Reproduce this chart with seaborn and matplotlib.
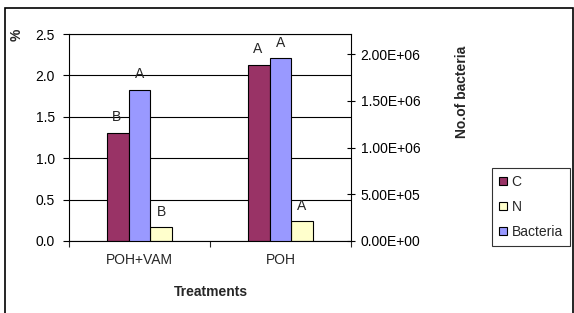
import matplotlib
matplotlib.use("Agg")
import matplotlib.pyplot as plt
from matplotlib.patches import Patch, Rectangle
from matplotlib.ticker import FuncFormatter, FixedLocator
import pandas as pd
import seaborn as sns

treatments = ["POH+VAM", "POH"]
carbon = [1.30, 2.12]
nitrogen = [0.17, 0.24]
bacteria = [1.62e6, 1.955e6]
carbon_labels = ["B", "A"]
nitrogen_labels = ["B", "A"]
bacteria_labels = ["A", "A"]

colors = {"C": "#993366", "N": "#FFFFCC", "Bacteria": "#9999FF"}
hue_order = ["C", "Bacteria", "N"]
FS = 10

# each axis gets all three series so the dodge slots line up; the other
# axis' series are zero height
pct = pd.DataFrame({
    "Treatment": treatments * 3,
    "Series": ["C"] * 2 + ["Bacteria"] * 2 + ["N"] * 2,
    "value": carbon + [0, 0] + nitrogen,
})
bac = pd.DataFrame({
    "Treatment": treatments * 3,
    "Series": ["C"] * 2 + ["Bacteria"] * 2 + ["N"] * 2,
    "value": [0, 0] + bacteria + [0, 0],
})

sns.set_style("white")
plt.rcParams["font.family"] = ["Liberation Sans", "DejaVu Sans"]
plt.rcParams["font.size"] = FS

fig = plt.figure(figsize=(5.74, 3.13), dpi=100)
ax = fig.add_axes([69 / 574, 1 - 241 / 313, (351 - 69) / 574, (241 - 34) / 313])
ax2 = ax.twinx()

sns.barplot(data=pct, x="Treatment", y="value", hue="Series", hue_order=hue_order,
            order=treatments, palette=colors, saturation=1, width=0.46, errorbar=None,
            edgecolor="black", linewidth=0.8, legend=False, ax=ax, zorder=3)
sns.barplot(data=bac, x="Treatment", y="value", hue="Series", hue_order=hue_order,
            order=treatments, palette=colors, saturation=1, width=0.46, errorbar=None,
            edgecolor="black", linewidth=0.8, legend=False, ax=ax2, zorder=3)

ax.set_xlim(-0.5, 1.5)
ax.set_ylim(0, 2.5)
ax.set_yticks([0, 0.5, 1.0, 1.5, 2.0, 2.5])
ax.yaxis.set_major_formatter(FuncFormatter(lambda v, p: f"{v:.1f}"))
ax.set_axisbelow(True)
ax.yaxis.grid(True, color="black", linewidth=0.8)
ax.set_xlabel("")
ax.set_ylabel("")
ax.tick_params(axis="y", direction="out", length=4, width=0.8, pad=6, labelsize=FS, colors="black")
ax.tick_params(axis="x", which="major", length=0, pad=9, labelsize=FS)
ax.xaxis.set_minor_locator(FixedLocator([-0.5, 0.5, 1.5]))
ax.tick_params(axis="x", which="minor", direction="out", length=4, width=0.8, bottom=True)
for s in ax.spines.values():
    s.set_color("black")
    s.set_linewidth(0.8)

ax2.set_ylim(0, 2.5 * 2e6 / (187 / 207 * 2.5))
ax2.set_yticks([0, 5e5, 1e6, 1.5e6, 2e6])
ax2.yaxis.set_major_formatter(FuncFormatter(lambda v, p: f"{v:.2E}"))
ax2.set_ylabel("")
ax2.set_xlabel("")
ax2.tick_params(axis="y", direction="inout", length=6, width=0.8, pad=4, labelsize=FS, colors="black")
for s in ax2.spines.values():
    s.set_visible(False)

# letters above the bars
for i in range(len(treatments)):
    ax.annotate(carbon_labels[i], (i - 0.153, carbon[i]), xytext=(-1, 11.5),
                textcoords="offset points", ha="center", va="center", fontsize=FS)
    ax.annotate(nitrogen_labels[i], (i + 0.153, nitrogen[i]), xytext=(0, 11),
                textcoords="offset points", ha="center", va="center", fontsize=FS)
    ax2.annotate(bacteria_labels[i], (i, bacteria[i]), xytext=(0, 11),
                 textcoords="offset points", ha="center", va="center", fontsize=FS)

fig.text(17 / 574, 1 - 35 / 313, "%", rotation=90, ha="center", va="center",
         fontsize=FS, fontweight="bold")
fig.text(462 / 574, 1 - 92 / 313, "No.of bacteria", rotation=90, ha="center", va="center",
         fontsize=FS, fontweight="bold")
fig.text(211 / 574, 1 - 292 / 313, "Treatments", ha="center", va="center",
         fontsize=FS, fontweight="bold")

handles = [Patch(facecolor=colors[k], edgecolor="black", linewidth=0.8, label=k)
           for k in ["C", "N", "Bacteria"]]
leg = fig.legend(handles=handles, loc="upper left", bbox_to_anchor=(492 / 574, 1 - 168 / 313),
                 borderaxespad=0, frameon=True, fancybox=False, fontsize=FS,
                 handlelength=0.55, handleheight=0.55, handletextpad=0.35,
                 labelspacing=0.8, borderpad=0.5)
leg.get_frame().set_edgecolor("black")
leg.get_frame().set_linewidth(0.8)

fig.patches.append(Rectangle((5 / 574, -0.01), 568 / 574, 1 - 8 / 313 + 0.01,
                             transform=fig.transFigure, fill=False,
                             edgecolor="black", linewidth=1.2))

fig.savefig("out.png", dpi=100)
plt.close(fig)
